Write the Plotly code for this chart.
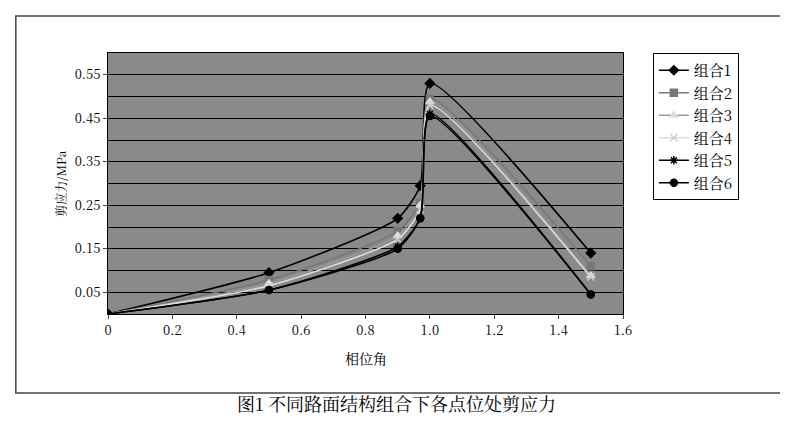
import plotly.graph_objects as go

x = [0, 0.5, 0.9, 0.97, 1.0, 1.5]
names = ["组合1", "组合2", "组合3", "组合4", "组合5", "组合6"]
s1 = [0, 0.095, 0.22, 0.295, 0.53, 0.14]
s2 = [0, 0.078, 0.19, 0.255, 0.495, 0.11]
s3 = [0, 0.07, 0.18, 0.25, 0.488, 0.088]
s4 = [0, 0.065, 0.172, 0.24, 0.48, 0.085]
s5 = [0, 0.055, 0.155, 0.22, 0.46, 0.045]
s6 = [0, 0.055, 0.15, 0.22, 0.455, 0.045]
series = [s1, s2, s3, s4, s5, s6]
ytick_vals = [0.05, 0.15, 0.25, 0.35, 0.45, 0.55]
xtick_vals = [0, 0.2, 0.4, 0.6, 0.8, 1.0, 1.2, 1.4, 1.6]
xtick_text = ["0", "0.2", "0.4", "0.6", "0.8", "1.0", "1.2", "1.4", "1.6"]

styles = [
    dict(color="black", symbol="diamond", lc="black"),
    dict(color="#777777", symbol="square", lc="#777777"),
    dict(color="#dddddd", symbol="triangle-up", lc="#999999"),
    dict(color="#cccccc", symbol="x-thin", lc="#dddddd"),
    dict(color="black", symbol="asterisk", lc="black"),
    dict(color="black", symbol="circle", lc="black"),
]

fig = go.Figure()
for name, ys, st in zip(names, series, styles):
    fig.add_trace(go.Scatter(
        x=x, y=ys, name=name, mode="lines+markers",
        line=dict(color=st["lc"], width=1.6, shape="spline", smoothing=0.6),
        marker=dict(symbol=st["symbol"], size=7, color=st["color"],
                    line=dict(color=st["color"], width=1.5)),
    ))

fig.update_layout(
    width=788, height=429,
    paper_bgcolor="white", plot_bgcolor="#8a8a8a",
    margin=dict(l=100, r=173, t=45, b=123, autoexpand=False),
    font=dict(family="Noto Serif CJK SC, Noto Sans CJK SC", size=13, color="black"),
    legend=dict(x=1.058, y=1.0, xanchor="left", yanchor="top",
                bordercolor="black", borderwidth=1, bgcolor="white",
                font=dict(size=15), tracegroupgap=2),
    shapes=[dict(type="rect", xref="paper", yref="paper",
                 x0=-0.179, x1=1.32, y0=-0.303, y1=1.142,
                 line=dict(color="#444444", width=1.5))],
    annotations=[
        dict(text="图1 不同路面结构组合下各点位处剪应力", xref="paper", yref="paper",
             x=0.56, y=-0.398, showarrow=False, font=dict(size=18)),
        dict(text="剪应力/MPa", xref="paper", yref="paper", x=-0.113, y=0.5,
             textangle=-90, showarrow=False, font=dict(size=12)),
        dict(text="相位角", xref="paper", yref="paper", x=0.5, y=-0.215,
             showarrow=False, font=dict(size=14)),
    ],
)
fig.update_xaxes(range=[0, 1.6], tickvals=xtick_vals, ticktext=xtick_text,
                 showgrid=False, zeroline=False, showline=True, linecolor="black",
                 mirror=True, ticks="outside", ticklen=4)
fig.update_yaxes(range=[0, 0.6], tickvals=ytick_vals, tickformat=".2f",
                 showgrid=True, gridcolor="black", gridwidth=1, zeroline=False,
                 showline=True, linecolor="black", mirror=True, ticks="outside", ticklen=4,
                 minor=dict(dtick=0.1, tick0=0, showgrid=True, gridcolor="black"))

fig.write_html("out.html")
